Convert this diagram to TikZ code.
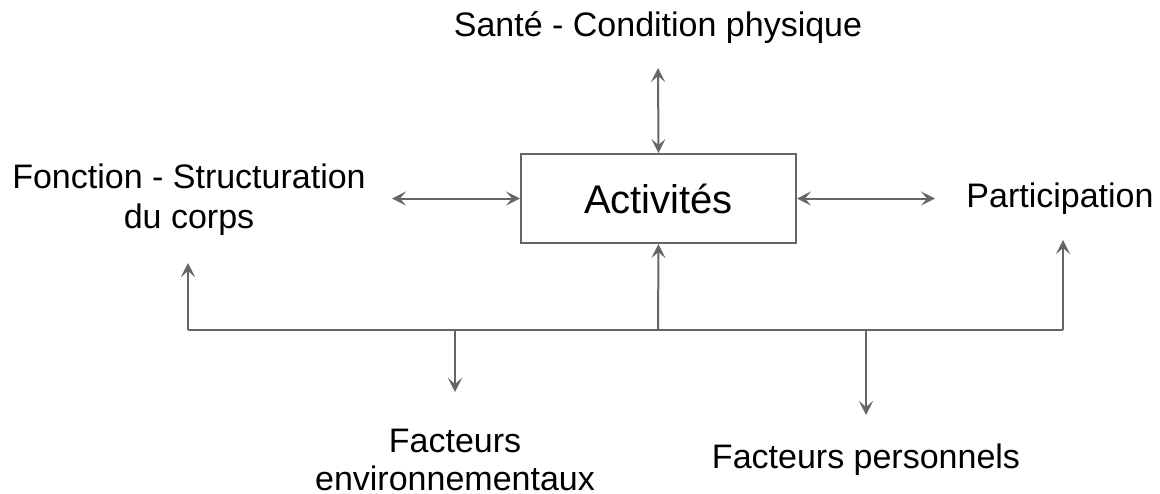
\documentclass[tikz,border=0pt]{standalone}
\usepackage{fontspec}
\setmainfont{Liberation Sans}
\usetikzlibrary{arrows.meta}
\definecolor{linegray}{HTML}{666666}
\begin{document}
\begin{tikzpicture}[x=0.5pt,y=-0.5pt,
  conn/.style={draw=linegray,line width=1pt},
  tipped/.style={conn,-{Stealth[length=7pt,width=7pt,inset=3pt]}},
  dtipped/.style={conn,{Stealth[length=7pt,width=7pt,inset=3pt]}-{Stealth[length=7pt,width=7pt,inset=3pt]}},
  lab/.style={font=\fontsize{17}{20}\selectfont,align=center,inner sep=0pt},
  mainbox/.style={draw=linegray,line width=1pt,minimum width=137.5pt,minimum height=44.5pt,inner sep=0pt,font=\fontsize{20}{24}\selectfont}]
\useasboundingbox (0,0) rectangle (1160,493);
\node[mainbox] (act) at (658.5,198.5) {Activités};
\node[lab] (sante) at (658,28) {Santé - Condition physique};
\node[lab] (fonct) at (189,200) {Fonction - Structuration\\du corps};
\node[lab] (part) at (1060,199) {Participation};
\node[lab,font=\fontsize{17}{19}\selectfont] (fenv) at (455,460) {Facteurs\\environnementaux};
\node[lab] (fpers) at (866,460) {Facteurs personnels};
\coordinate (topend) at (658,68);
\coordinate (leftend) at (392,198.5);
\coordinate (rightend) at (935,198.5);
\coordinate (bl) at (188,330);
\coordinate (br) at (1063,330);
\coordinate (bm) at (658,330);
\coordinate (be) at (455,330);
\coordinate (bp) at (866,330);
\coordinate (flup) at (188,263);
\coordinate (prup) at (1063,240);
\coordinate (edown) at (455,392);
\coordinate (pdown) at (866,415);
\draw[dtipped] (topend) -- (act.north);
\draw[dtipped] (leftend) -- (act.west);
\draw[dtipped] (act.east) -- (rightend);
\draw[conn] (bl) -- (br);
\draw[tipped] (bl) -- (flup);
\draw[tipped] (br) -- (prup);
\draw[tipped] (bm) -- (act.south);
\draw[tipped] (be) -- (edown);
\draw[tipped] (bp) -- (pdown);
\end{tikzpicture}
\end{document}
